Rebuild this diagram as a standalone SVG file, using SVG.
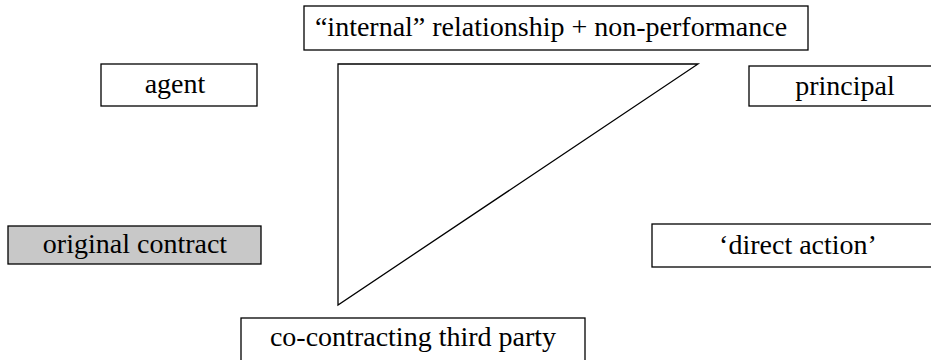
<svg xmlns="http://www.w3.org/2000/svg" width="931" height="360" viewBox="0 0 931 360">
<style>
.box{fill:#fff;stroke:#000;stroke-width:1.3}
.grey{fill:#c8c8c8}
text{font-family:'Liberation Serif','Times New Roman',serif;font-size:28px;fill:#000;text-anchor:middle}
.line{fill:none;stroke:#000;stroke-width:1.3}
</style>
<rect width="931" height="360" fill="#fff"/>
<g id="connectors">
<polygon class="line" points="338,64 698,64 338,305"/>
</g>
<g id="node-internal">
<rect class="box" x="304" y="6" width="504" height="44"/>
<text x="551" y="36">“internal” relationship + non-performance</text>
</g>
<g id="node-agent">
<rect class="box" x="101" y="64" width="156" height="42"/>
<text x="175" y="93">agent</text>
</g>
<g id="node-principal">
<rect class="box" x="749" y="66" width="195" height="40"/>
<text x="845" y="95">principal</text>
</g>
<g id="node-original">
<rect class="box grey" x="8" y="226" width="253" height="38"/>
<text x="135" y="253">original contract</text>
</g>
<g id="node-direct">
<rect class="box" x="652" y="224" width="292" height="43"/>
<text x="798" y="254">‘direct action’</text>
</g>
<g id="node-third">
<rect class="box" x="241" y="318" width="344" height="50"/>
<text x="413" y="346">co-contracting third party</text>
</g>
</svg>
